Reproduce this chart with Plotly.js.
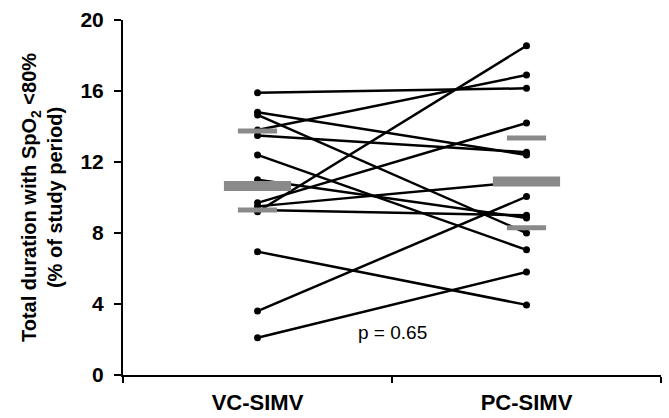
<!DOCTYPE html>
<html>
<head>
<meta charset="utf-8">
<script src="https://cdn.plot.ly/plotly-3.0.1.min.js"></script>
<style>html,body{margin:0;padding:0;background:#fff;}#chart{width:669px;height:418px;}</style>
</head>
<body>
<div id="chart"></div>
<script>
// Categories
var categories = ["VC-SIMV", "PC-SIMV"];
var categoryPos = [1, 2];
// Paired subject values (% of study period with SpO2 < 80%)
var vcValues = [15.9, 14.8, 14.65, 13.8, 13.5, 12.4, 11.0, 9.7, 9.5, 9.2, 9.3, 6.95, 3.6, 2.1];
var pcValues = [16.15, 12.4, 8.0, 16.9, 12.55, 7.05, 8.85, 14.2, 10.9, 18.55, 9.0, 3.95, 10.05, 5.8];
// Summary bars: median and quartiles
var vcMedian = [10.65];
var pcMedian = [10.9];
var vcQuartiles = [9.3, 13.75];
var pcQuartiles = [8.3, 13.35];
var yTicks = [0, 4, 8, 12, 16, 20];
var pText = "p = 0.65";
var pY = 2.4;

var traces = [];
for (var i = 0; i < vcValues.length; i++) {
  traces.push({
    type: "scatter", mode: "lines+markers",
    x: [categoryPos[0], categoryPos[1]],
    y: [vcValues[i], pcValues[i]],
    line: {color: "#000", width: 2.5},
    marker: {color: "#000", size: 7},
    showlegend: false, hoverinfo: "skip"
  });
}
traces.push({
  type: "scatter", mode: "markers",
  x: [categoryPos[0], categoryPos[1]],
  y: [vcMedian[0], pcMedian[0]],
  marker: {symbol: "line-ew", size: 48, color: "#8a8a8a", line: {color: "#8a8a8a", width: 10}},
  showlegend: false, hoverinfo: "skip"
});
traces.push({
  type: "scatter", mode: "markers",
  x: [categoryPos[0], categoryPos[0], categoryPos[1], categoryPos[1]],
  y: [vcQuartiles[0], vcQuartiles[1], pcQuartiles[0], pcQuartiles[1]],
  marker: {symbol: "line-ew", size: 28, color: "#8a8a8a", line: {color: "#8a8a8a", width: 5}},
  showlegend: false, hoverinfo: "skip"
});

var FONT = "Liberation Sans, Arial, sans-serif";
var layout = {
  width: 669, height: 418,
  margin: {l: 123, r: 8, t: 20, b: 43},
  paper_bgcolor: "#fff", plot_bgcolor: "#fff",
  font: {family: FONT, color: "#000"},
  xaxis: {
    range: [0.5, 2.5], tickvals: categoryPos, ticktext: categories,
    ticks: "", showgrid: false, zeroline: false,
    showline: true, linecolor: "#000", linewidth: 2,
    tickfont: {size: 22, family: FONT, weight: "bold"},
    ticklabelstandoff: 7,
    minor: {tickvals: [0.5, 1.5, 2.5], ticks: "outside", ticklen: 6, tickwidth: 2, tickcolor: "#000", showgrid: false}
  },
  yaxis: {
    range: [0, 20], tickvals: yTicks,
    ticks: "outside", ticklen: 7, tickwidth: 2, tickcolor: "#000",
    showgrid: false, zeroline: false,
    showline: true, linecolor: "#000", linewidth: 2,
    tickfont: {size: 21, family: FONT, weight: "bold"},
    ticklabelstandoff: 6,
    title: {
      text: "Total duration with SpO<sub>2</sub> &lt;80%<br>(% of study period)",
      font: {size: 20, family: FONT, weight: "bold"},
      standoff: 12
    }
  },
  annotations: [{
    x: 1.5, y: pY, xref: "x", yref: "y", text: pText, showarrow: false,
    font: {size: 19, family: FONT}
  }]
};
Plotly.newPlot("chart", traces, layout, {displayModeBar: false, staticPlot: true});
</script>
</body>
</html>
